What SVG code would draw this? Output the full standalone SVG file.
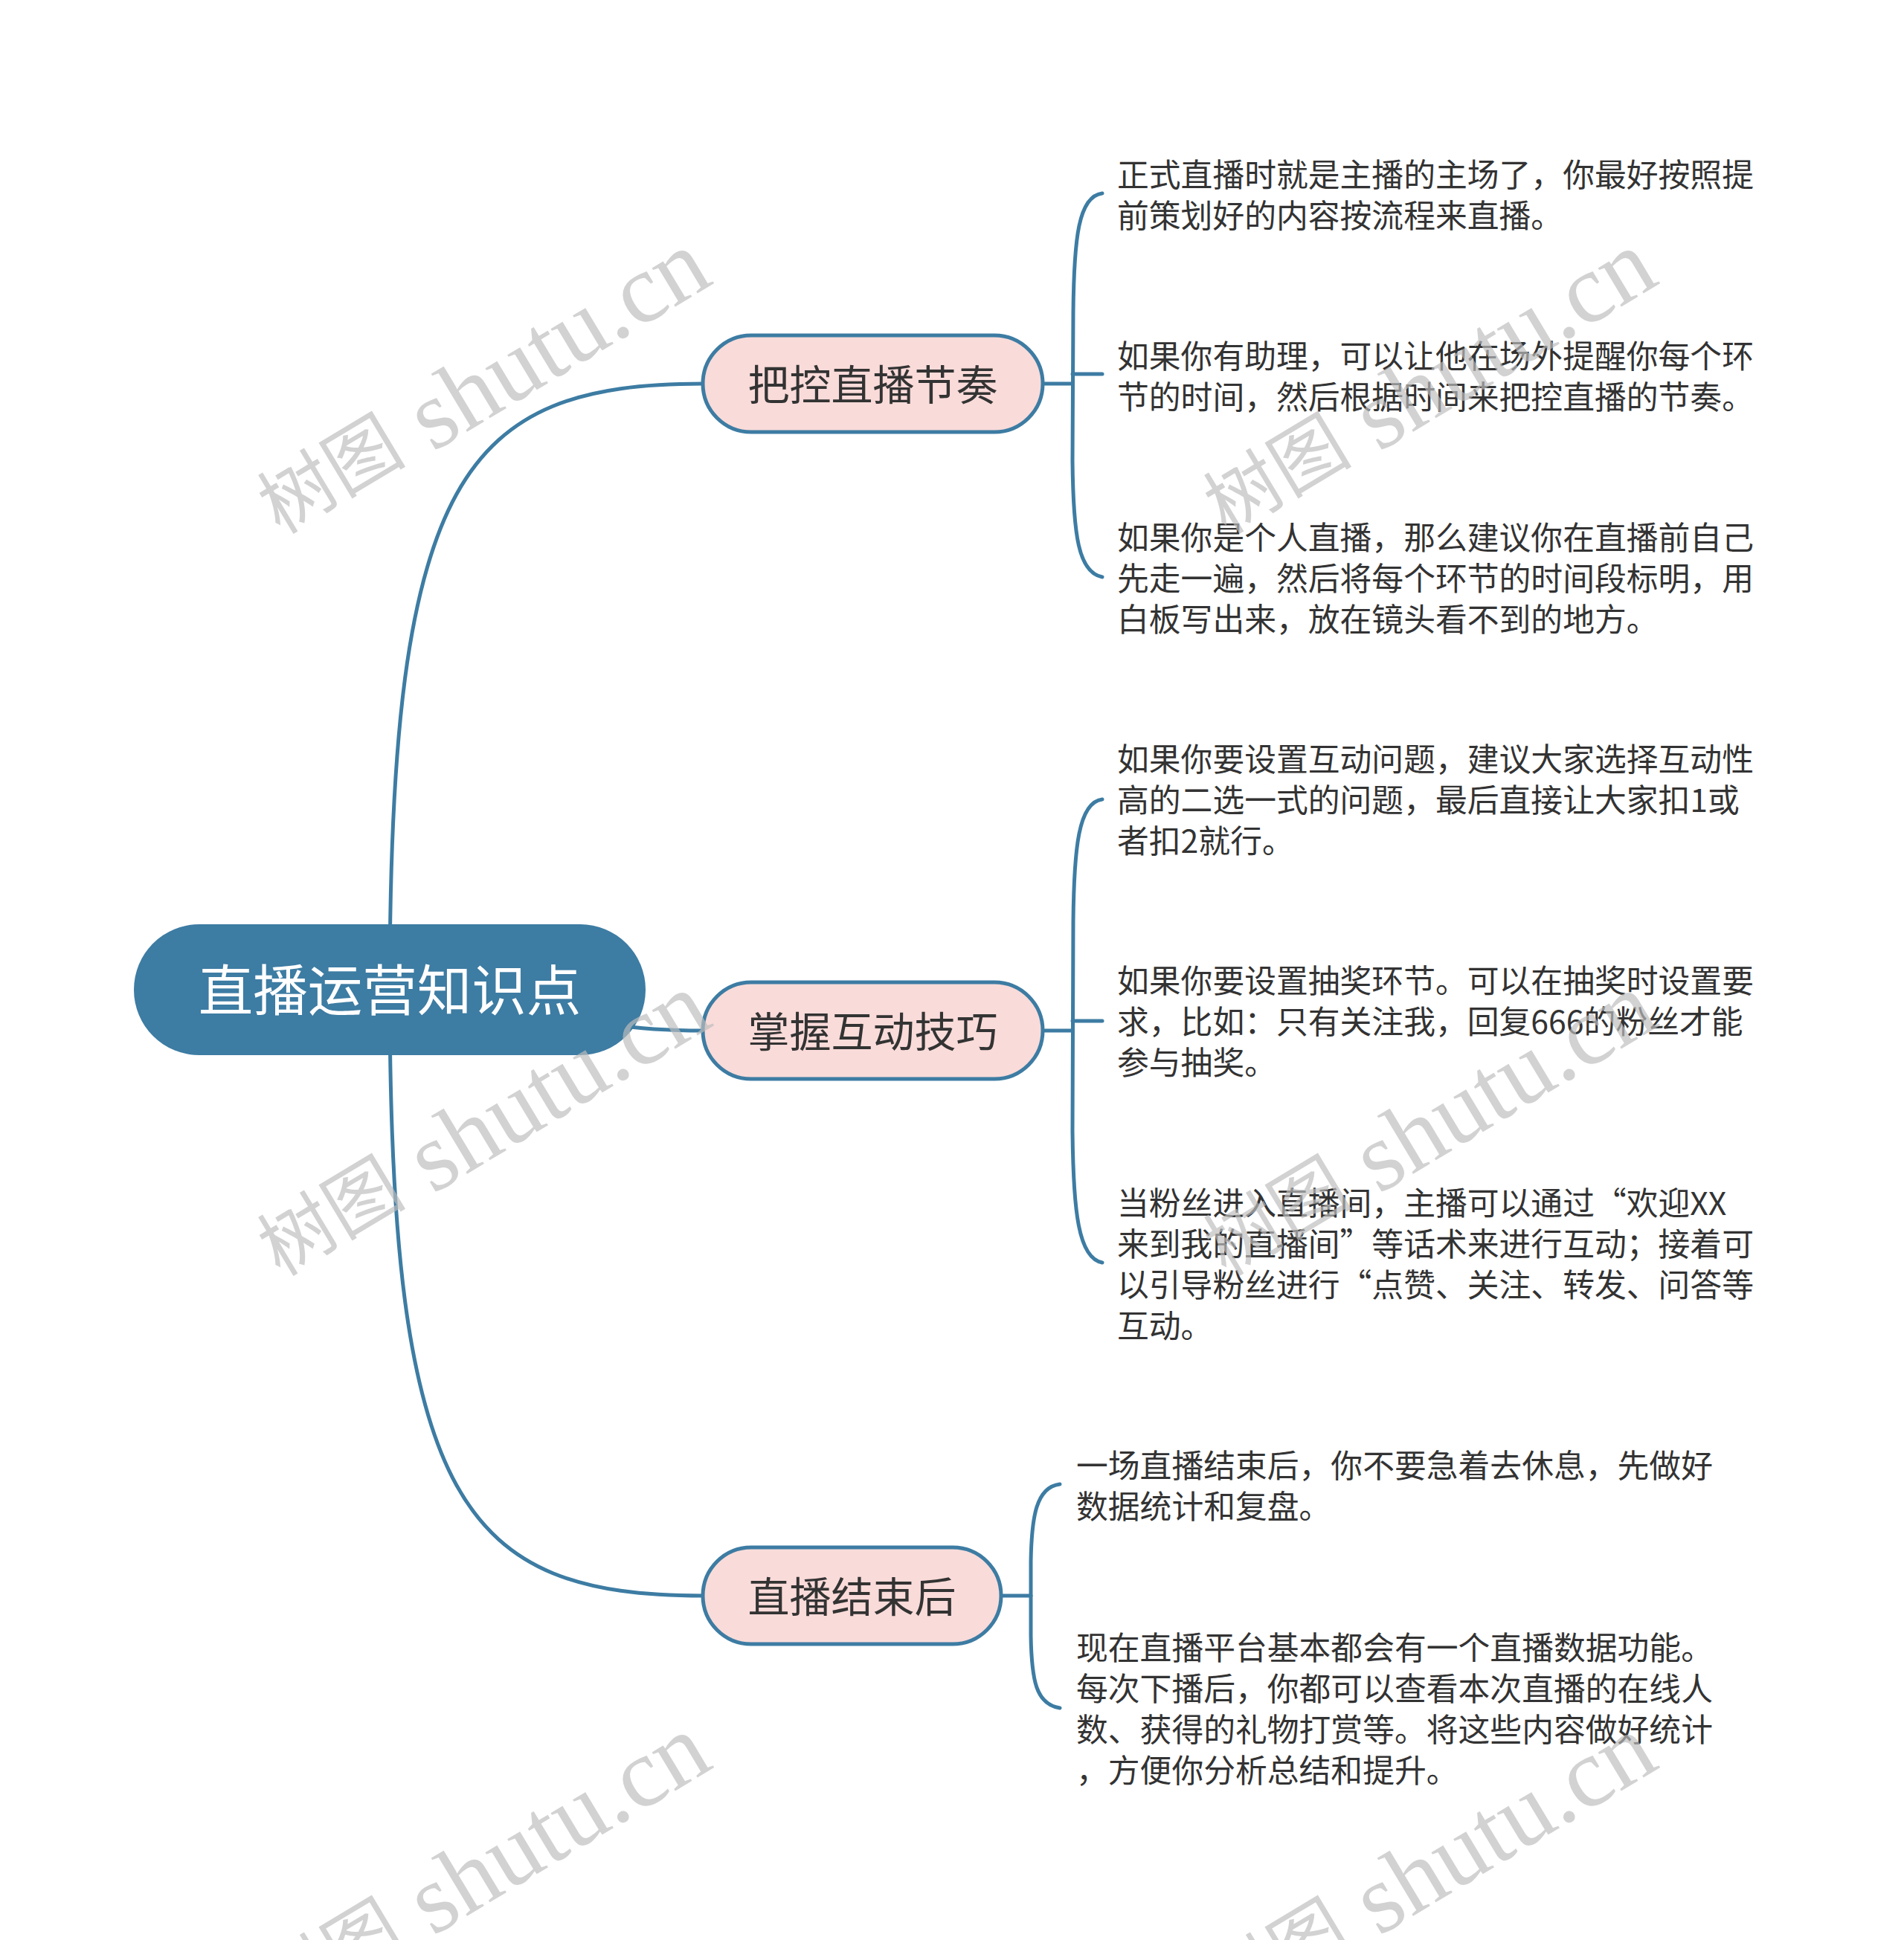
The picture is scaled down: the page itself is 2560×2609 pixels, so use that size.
<svg xmlns="http://www.w3.org/2000/svg" width="2560" height="2609" viewBox="0 0 2560 2609">
<defs>
<style>
.bg{fill:#ffffff}
.line{fill:none;stroke:#3d7ca3;stroke-width:5;stroke-linecap:round}
.root{fill:#3d7ca3}
.rootText{fill:#ffffff;font-family:"Noto Sans CJK SC","Noto Sans",sans-serif;font-size:73.5px;text-anchor:middle;dominant-baseline:central}
.branch{fill:#f9dbd9;stroke:#3d7ca3;stroke-width:5}
.branchText{fill:#333333;font-family:"Noto Sans CJK SC","Noto Sans",sans-serif;font-size:56px;text-anchor:middle;dominant-baseline:central}
.leaf{fill:#333333;font-family:"Noto Sans CJK SC","Noto Sans",sans-serif;font-size:42.8px;dominant-baseline:central}
.wm{fill:#bdbdbd;opacity:0.68;font-family:"Liberation Serif","Noto Sans CJK SC",serif;font-size:132px;text-anchor:middle;dominant-baseline:central}
.wmc{font-size:100px}
</style>
</defs>
<rect class="bg" x="0" y="0" width="2560" height="2609"/>

<g id="connectors">
<path class="line" d="M524,1331 C524,641 623,516 945,516"/>
<path class="line" d="M524,1331 C736,1331 736,1386 945,1386"/>
<path class="line" d="M524,1331 C524,2021 623,2146 945,2146"/>
<path class="line" d="M1402,516 L1442,516"/>
<path class="line" d="M1482,260 C1450,264 1444,320 1443,420 L1442,620 C1443,720 1450,770 1482,776"/>
<path class="line" d="M1442,503 L1482,503"/>
<path class="line" d="M1402,1386 L1442,1386"/>
<path class="line" d="M1482,1075 C1450,1079 1444,1140 1443,1240 L1442,1520 C1443,1630 1450,1692 1482,1698"/>
<path class="line" d="M1442,1373 L1482,1373"/>
<path class="line" d="M1346,2146 L1386,2146"/>
<path class="line" d="M1425,1996 C1393,2000 1387,2040 1386,2100 L1386,2200 C1387,2260 1393,2292 1425,2297"/>
</g>

<g id="root">
<rect class="root" x="180" y="1243" width="688" height="176" rx="88" ry="88"/>
<text class="rootText" x="524" y="1327">直播运营知识点</text>
</g>

<g id="branch1">
<rect class="branch" x="945" y="451" width="457" height="130" rx="65" ry="65"/>
<text class="branchText" x="1173.5" y="513">把控直播节奏</text>
</g>
<g id="branch2">
<rect class="branch" x="945" y="1321" width="457" height="130" rx="65" ry="65"/>
<text class="branchText" x="1173.5" y="1383">掌握互动技巧</text>
</g>
<g id="branch3">
<rect class="branch" x="945" y="2081" width="401" height="130" rx="65" ry="65"/>
<text class="branchText" x="1145.5" y="2143">直播结束后</text>
</g>

<g id="leaf1">
<text class="leaf"><tspan x="1502" y="231.5">正式直播时就是主播的主场了，你最好按照提</tspan><tspan x="1502" y="286.5">前策划好的内容按流程来直播。</tspan></text>
</g>
<g id="leaf2">
<text class="leaf"><tspan x="1502" y="475.5">如果你有助理，可以让他在场外提醒你每个环</tspan><tspan x="1502" y="530.5">节的时间，然后根据时间来把控直播的节奏。</tspan></text>
</g>
<g id="leaf3">
<text class="leaf"><tspan x="1502" y="720">如果你是个人直播，那么建议你在直播前自己</tspan><tspan x="1502" y="775">先走一遍，然后将每个环节的时间段标明，用</tspan><tspan x="1502" y="830">白板写出来，放在镜头看不到的地方。</tspan></text>
</g>
<g id="leaf4">
<text class="leaf"><tspan x="1502" y="1018">如果你要设置互动问题，建议大家选择互动性</tspan><tspan x="1502" y="1073">高的二选一式的问题，最后直接让大家扣1或</tspan><tspan x="1502" y="1128">者扣2就行。</tspan></text>
</g>
<g id="leaf5">
<text class="leaf"><tspan x="1502" y="1316">如果你要设置抽奖环节。可以在抽奖时设置要</tspan><tspan x="1502" y="1371">求，比如：只有关注我，回复666的粉丝才能</tspan><tspan x="1502" y="1426">参与抽奖。</tspan></text>
</g>
<g id="leaf6">
<text class="leaf"><tspan x="1502" y="1614.5">当粉丝进入直播间，主播可以通过“欢迎XX</tspan><tspan x="1502" y="1669.5">来到我的直播间”等话术来进行互动；接着可</tspan><tspan x="1502" y="1724.5">以引导粉丝进行“点赞、关注、转发、问答等</tspan><tspan x="1502" y="1779.5">互动。</tspan></text>
</g>
<g id="leaf7">
<text class="leaf"><tspan x="1447" y="1967.5">一场直播结束后，你不要急着去休息，先做好</tspan><tspan x="1447" y="2022.5">数据统计和复盘。</tspan></text>
</g>
<g id="leaf8">
<text class="leaf"><tspan x="1447" y="2212.5">现在直播平台基本都会有一个直播数据功能。</tspan><tspan x="1447" y="2267.5">每次下播后，你都可以查看本次直播的在线人</tspan><tspan x="1447" y="2322.5">数、获得的礼物打赏等。将这些内容做好统计</tspan><tspan x="1447" y="2377.5">，方便你分析总结和提升。</tspan></text>
</g>

<g id="watermarks">
<text class="wm" transform="translate(649,516) rotate(-31)"><tspan class="wmc">树图</tspan> shutu.cn</text>
<text class="wm" transform="translate(1921,516) rotate(-31)"><tspan class="wmc">树图</tspan> shutu.cn</text>
<text class="wm" transform="translate(649,1514) rotate(-31)"><tspan class="wmc">树图</tspan> shutu.cn</text>
<text class="wm" transform="translate(1921,1514) rotate(-31)"><tspan class="wmc">树图</tspan> shutu.cn</text>
<text class="wm" transform="translate(649,2512) rotate(-31)"><tspan class="wmc">树图</tspan> shutu.cn</text>
<text class="wm" transform="translate(1921,2512) rotate(-31)"><tspan class="wmc">树图</tspan> shutu.cn</text>
</g>
</svg>
